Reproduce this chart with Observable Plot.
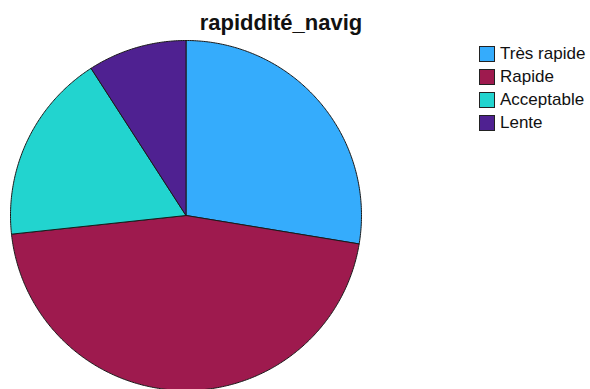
<!DOCTYPE html>
<html>
<head>
<meta charset="utf-8">
<script src="https://cdn.jsdelivr.net/npm/d3@7"></script>
<script src="https://cdn.jsdelivr.net/npm/@observablehq/plot@0.6"></script>
<style>
  body { margin: 0; background: #fff; }
  #wrap { position: relative; width: 590px; height: 389px; overflow: hidden; font-family: "Liberation Sans", Arial, sans-serif; }
  #title { position: absolute; left: 0; width: 562px; top: 10px; text-align: center; font-weight: bold; font-size: 22px; line-height: 26px; color: #111; }
  #chart { position: absolute; left: 0; top: 0; }
  #legend { position: absolute; left: 479px; top: 42px; }
  .row { display: flex; align-items: center; height: 23px; font-size: 17px; color: #111; }
  .sw { width: 14px; height: 14px; border: 1px solid #222; margin-right: 5px; }
</style>
</head>
<body>
<div id="wrap">
  <div id="chart"></div>
  <div id="title">rapiddité_navig</div>
  <div id="legend"></div>
</div>
<script>
const title = "rapiddité_navig";
const categories = ["Très rapide", "Rapide", "Acceptable", "Lente"];
const values = [27.6, 45.7, 17.6, 9.1];
const colors = ["#35acfc", "#9e1a4e", "#22d4cf", "#4f2191"];

const arcs = d3.pie().sort(null).value(d => d)(values);
const points = arcs.flatMap((a, i) => {
  const cat = categories[i];
  const pts = [{cat, x: 0, y: 0}];
  const n = Math.max(2, Math.ceil((a.endAngle - a.startAngle) / 0.01));
  for (let k = 0; k <= n; k++) {
    const t = a.startAngle + (a.endAngle - a.startAngle) * k / n;
    pts.push({cat, x: Math.sin(t), y: Math.cos(t)});
  }
  pts.push({cat, x: 0, y: 0});
  return pts;
});

const plot = Plot.plot({
  width: 590,
  height: 389,
  margin: 0,
  x: {domain: [-1, 1], range: [10, 361], axis: null},
  y: {domain: [-1, 1], range: [390, 40], axis: null},
  color: {domain: categories, range: colors},
  marks: [
    Plot.line(points, {x: "x", y: "y", z: "cat", fill: "cat", stroke: "#1a1a1a", strokeWidth: 1, curve: "linear"})
  ]
});
document.getElementById("chart").appendChild(plot);

const legend = document.getElementById("legend");
categories.forEach((c, i) => {
  const row = document.createElement("div");
  row.className = "row";
  const sw = document.createElement("div");
  sw.className = "sw";
  sw.style.background = colors[i];
  const lab = document.createElement("span");
  lab.textContent = c;
  row.appendChild(sw);
  row.appendChild(lab);
  legend.appendChild(row);
});
</script>
</body>
</html>
